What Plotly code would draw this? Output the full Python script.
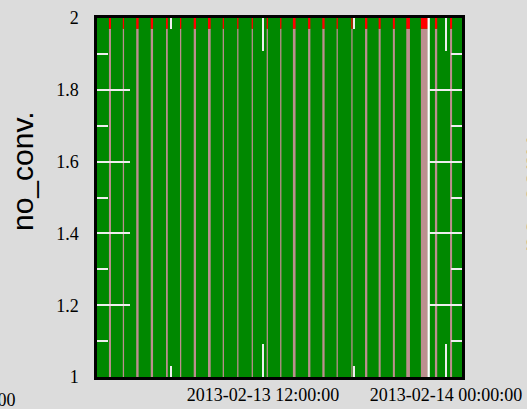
import plotly.graph_objects as go
import datetime as dt

# ---- data ----
series_span_start = ["2013-02-13 00:00:00"]
series_span_hours = [26]
series_level = [2]

gap_times = [
    "2013-02-13 01:58", "2013-02-13 02:51", "2013-02-13 03:46", "2013-02-13 04:43",
    "2013-02-13 05:42", "2013-02-13 06:36", "2013-02-13 07:32", "2013-02-13 08:29",
    "2013-02-13 09:24", "2013-02-13 10:21", "2013-02-13 11:18", "2013-02-13 12:17",
    "2013-02-13 13:10", "2013-02-13 14:03", "2013-02-13 15:02", "2013-02-13 15:58",
    "2013-02-13 16:52", "2013-02-13 17:50", "2013-02-13 18:46", "2013-02-13 19:39",
    "2013-02-13 20:35", "2013-02-13 21:31", "2013-02-13 22:35", "2013-02-13 23:21",
    "2013-02-14 00:20",
]
gap_minutes = [8, 5, 9.5, 9, 7, 5, 9, 10.5, 5, 5, 5, 5, 5, 10.5, 9, 9, 5, 5, 9, 8, 8, 14.5, 27.5, 9, 8]
gap_low = 1.0
gap_high = 1.97
cap_high = 2.0

white_times = ["2013-02-13 22:52"]
white_minutes = [9]

x_range = ["2013-02-13 01:07:00", "2013-02-14 01:03:00"]
y_range = [1, 2]

GREEN = "#008800"
TAN = "#bc8f8f"
RED = "#ff0000"
BG = "#dcdcdc"
TICK = "#eeeeee"

PLOT_W = 365  # plot area width in px
_r0 = dt.datetime.fromisoformat(x_range[0])
_r1 = dt.datetime.fromisoformat(x_range[1])
PX_PER_MIN = PLOT_W / ((_r1 - _r0).total_seconds() / 60)

fig = go.Figure()

_start = dt.datetime.fromisoformat(series_span_start[0])
_mid = [(_start + dt.timedelta(hours=h / 2)).isoformat(sep=" ") for h in series_span_hours]
fig.add_trace(go.Bar(
    x=_mid, y=[lv - gap_low for lv in series_level], base=gap_low,
    width=[h * 3600000 for h in series_span_hours],
    marker=dict(color=GREEN, line=dict(width=0)), showlegend=False, hoverinfo="skip"))

for t, m in zip(gap_times, gap_minutes):
    fig.add_trace(go.Scatter(
        x=[t, t], y=[gap_low, gap_high], mode="lines",
        line=dict(color=TAN, width=m * PX_PER_MIN), showlegend=False, hoverinfo="skip"))
    fig.add_trace(go.Scatter(
        x=[t, t], y=[gap_high, cap_high], mode="lines",
        line=dict(color=RED, width=m * PX_PER_MIN), showlegend=False, hoverinfo="skip"))

for t, m in zip(white_times, white_minutes):
    fig.add_trace(go.Scatter(
        x=[t, t], y=[gap_low, cap_high], mode="lines",
        line=dict(color="white", width=m * PX_PER_MIN), showlegend=False, hoverinfo="skip"))

serif = "Liberation Serif, Times New Roman, serif"
sans = "Liberation Sans, Arial, sans-serif"

fig.update_layout(
    width=527, height=409,
    margin=dict(l=97, r=65, t=18, b=32, autoexpand=False),
    paper_bgcolor=BG, plot_bgcolor=BG,
    barmode="overlay", bargap=0,
    showlegend=False,
    xaxis=dict(
        type="date", range=x_range, showgrid=False, zeroline=False, automargin=False,
        showline=True, linecolor="black", linewidth=2.5, mirror="ticks",
        ticks="inside", ticklen=33, tickwidth=2, tickcolor=TICK,
        tick0="2013-02-13 00:00:00", dtick=12 * 3600000,
        tickformat="%Y-%m-%d %H:%M:%S",
        tickfont=dict(family=serif, size=18, color="black"),
        minor=dict(ticks="inside", ticklen=11, tickwidth=2, tickcolor=TICK,
                   dtick=6 * 3600000, tick0="2013-02-13 00:00:00", showgrid=False),
        layer="above traces",
    ),
    yaxis=dict(
        range=y_range, showgrid=False, zeroline=False, automargin=False,
        showline=True, linecolor="black", linewidth=2.5, mirror="ticks",
        ticks="inside", ticklen=33, tickwidth=2, tickcolor=TICK,
        tick0=1, dtick=0.2,
        tickfont=dict(family=serif, size=18, color="black"),
        ticklabelstandoff=12,
        minor=dict(ticks="inside", ticklen=11, tickwidth=2, tickcolor=TICK,
                   dtick=0.1, showgrid=False),
        layer="above traces",
    ),
    annotations=[
        dict(text="no_conv.", textangle=-90, xref="paper", yref="paper",
             x=(22 - 97) / 365, y=(377 - 171) / 359, xanchor="center", yanchor="middle",
             showarrow=False, font=dict(family=sans, size=30, color="black")),
        dict(text="no_conv.", textangle=-90, xref="paper", yref="paper",
             x=(532 - 97) / 365, y=(377 - 192) / 359, xanchor="center", yanchor="middle",
             showarrow=False, font=dict(family=sans, size=30, color="black")),
        dict(text="2013-02-14 00:00:00", xref="paper", yref="paper",
             x=(18 - 97) / 365, y=(377 - 400) / 359, xanchor="right", yanchor="middle",
             showarrow=False, font=dict(family=serif, size=18, color="black")),
    ],
)

fig.write_html(
    "out.html",
    config={"displayModeBar": False},
    post_script="document.body.style.margin='0';document.body.style.background='#dcdcdc';",
)
